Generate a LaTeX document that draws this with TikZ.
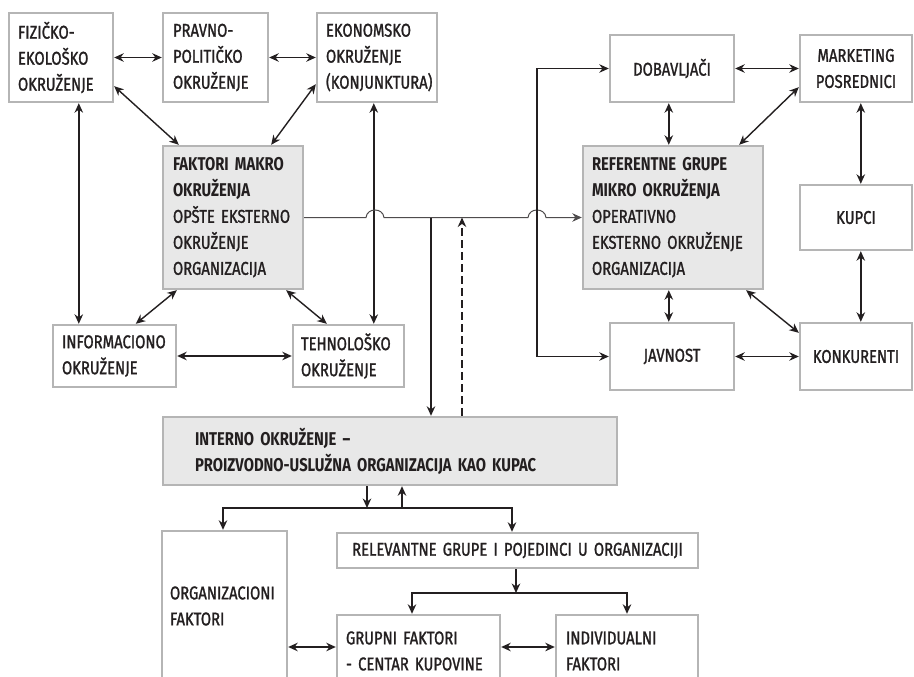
\documentclass[tikz,border=0pt]{standalone}
\usepackage{fontspec}
\setmainfont{Fira Sans}[FakeStretch=0.8, UprightFeatures={FakeBold=1.3}]
\usetikzlibrary{arrows.meta,calc}
\definecolor{bord}{HTML}{B5B5B5}
\definecolor{fillg}{HTML}{E8E8E8}
\definecolor{ink}{HTML}{231F20}
\tikzset{
 box/.style={draw=bord, line width=2.4pt, fill=white, font=\fontsize{18.5}{26}\selectfont, text=ink, align=left, inner ysep=0pt},
 gbox/.style={box, fill=fillg},
 cbox/.style={box, align=center},
 dbl/.style={draw=ink, line width=1.4pt, {Stealth[length=9.5pt,width=8.5pt]}-{Stealth[length=9.5pt,width=8.5pt]}},
 sgl/.style={draw=ink, line width=1.4pt, -{Stealth[length=9.5pt,width=8.5pt]}},
 thinarr/.style={draw=ink!80, line width=1pt, -{Stealth[length=9.5pt,width=8.5pt]}},
 dashedarr/.style={sgl, dash pattern=on 8pt off 4pt},
}
\begin{document}
\begin{tikzpicture}[x=1pt,y=-1pt]
\clip (0,0) rectangle (914,677);
\fill[white] (0,0) rectangle (914,677);
% top row
\node[box, minimum width=104pt, minimum height=89pt, text width=86pt, inner xsep=9pt] (fiz) at (61,57.5) {FIZIČKO-\\EKOLOŠKO\\OKRUŽENJE};
\node[box, minimum width=105pt, minimum height=89pt, text width=85pt, inner xsep=10pt] (prav) at (215.5,57.5) {PRAVNO-\\POLITIČKO\\OKRUŽENJE};
\node[box, minimum width=120pt, minimum height=89pt, text width=102pt, inner xsep=9pt] (ekon) at (377,57.5) {EKONOMSKO\\OKRUŽENJE\\(KONJUNKTURA)};
\node[cbox, minimum width=124pt, minimum height=67pt, text width=106pt, inner xsep=9pt] (dob) at (672,68.5) {DOBAVLJAČI};
\node[cbox, minimum width=112pt, minimum height=67pt, text width=96pt, inner xsep=8pt] (mark) at (856,68.5) {MARKETING\\POSREDNICI};
% middle
\node[gbox, minimum width=140pt, minimum height=143pt, text width=120pt, inner xsep=10pt] (makro) at (233,217.5) {\textbf{FAKTORI MAKRO}\\\textbf{OKRUŽENJA}\\OPŠTE EKSTERNO\\OKRUŽENJE\\ORGANIZACIJA};
\node[gbox, minimum width=180pt, minimum height=143pt, text width=162pt, inner xsep=9pt] (ref) at (673,217.5) {\textbf{REFERENTNE GRUPE}\\\textbf{MIKRO OKRUŽENJA}\\OPERATIVNO\\EKSTERNO OKRUŽENJE\\ORGANIZACIJA};
\node[cbox, minimum width=112pt, minimum height=65pt, text width=96pt, inner xsep=8pt] (kupci) at (856,217.5) {KUPCI};
\node[box, minimum width=123pt, minimum height=62pt, text width=105pt, inner xsep=9pt] (info) at (114.5,356) {INFORMACIONO\\OKRUŽENJE};
\node[box, minimum width=111pt, minimum height=62pt, text width=95pt, inner xsep=8pt] (teh) at (348.5,356) {TEHNOLOŠKO\\OKRUŽENJE};
\node[cbox, minimum width=124pt, minimum height=67pt, text width=106pt, inner xsep=9pt] (jav) at (672,356.5) {JAVNOST};
\node[cbox, minimum width=112pt, minimum height=67pt, text width=96pt, inner xsep=8pt] (konk) at (856,356.5) {KONKURENTI};
% lower
\node[gbox, minimum width=454pt, minimum height=68pt, text width=390pt, inner xsep=32pt] (int) at (390,451) {\textbf{INTERNO OKRUŽENJE –}\\\textbf{PROIZVODNO-USLUŽNA ORGANIZACIJA KAO KUPAC}};
\node[cbox, minimum width=361pt, minimum height=35pt, text width=343pt, inner xsep=9pt] (rel) at (517.5,550.5) {RELEVANTNE GRUPE I POJEDINCI U ORGANIZACIJI};
\node[box, minimum width=125pt, minimum height=150pt, text width=109pt, inner xsep=8pt] (org) at (224.5,606) {ORGANIZACIONI\\FAKTORI};
\node[box, minimum width=163pt, minimum height=72pt, text width=145pt, inner xsep=9pt] (grup) at (418.5,651) {GRUPNI FAKTORI\\- CENTAR KUPOVINE};
\node[box, minimum width=142pt, minimum height=72pt, text width=122pt, inner xsep=10pt] (ind) at (627,651) {INDIVIDUALNI\\FAKTORI};
% helper coordinates
\coordinate (j1) at (431,217.5);
\coordinate (j2) at (462,217.5);
\coordinate (b1) at (537,200);
\coordinate (h1) at (367,508);
\coordinate (h2) at (402,508);
\coordinate (hL) at (223,508);
\coordinate (hR) at (512,508);
\coordinate (h4) at (516,593);
\coordinate (hL2) at (412,593);
\coordinate (hR2) at (627,593);
\coordinate (y647) at (0,647);
\coordinate (bumpA1) at (366,217.5);
\coordinate (bumpA2) at (384,217.5);
\coordinate (bumpB1) at (528,217.5);
\coordinate (bumpB2) at (546,217.5);
% macro cluster
\draw[dbl] (fiz.east) -- (prav.west);
\draw[dbl] (prav.east) -- (ekon.west);
\draw[dbl] ([xshift=17pt]makro.north west) -- ([yshift=17pt]fiz.south east);
\draw[dbl] ([xshift=-33pt]makro.north east) -- ([yshift=19pt]ekon.south west);
\draw[dbl] ([xshift=71pt]fiz.south west) -- ([xshift=27pt]info.north west);
\draw[dbl] ([xshift=58pt]ekon.south west) -- ([xshift=82pt]teh.north west);
\draw[dbl] ([xshift=15pt]makro.south west) -- ([xshift=84pt]info.north west);
\draw[dbl] ([xshift=-18pt]makro.south east) -- ([xshift=35pt]teh.north west);
\draw[dbl] (info.east) -- (teh.west);
% link macro -> micro with line jumps
\draw[thinarr] (makro.east) -- (bumpA1) .. controls ($(bumpA1)+(1,-10)$) and ($(bumpA2)+(-1,-10)$) .. (bumpA2) -- (bumpB1) .. controls ($(bumpB1)+(1,-10)$) and ($(bumpB2)+(-1,-10)$) .. (bumpB2) -- (ref.west);
\draw[sgl] (j1) -- (int.north -| j1);
\draw[dashedarr] (int.north -| j2) -- (j2);
% micro cluster
\draw[dbl] (dob.west) -| (b1) |- (jav.west);
\draw[dbl] (dob.east) -- (mark.west);
\draw[dbl] ([xshift=60pt]dob.south west) -- ([xshift=87pt]ref.north west);
\draw[dbl] ([xshift=-25pt]ref.north east) -- ([yshift=16pt]mark.south west);
\draw[dbl] ([xshift=62pt]mark.south west) -- ([xshift=62pt]kupci.north west);
\draw[dbl] ([xshift=62pt]kupci.south west) -- ([xshift=62pt]konk.north west);
\draw[dbl] ([xshift=87pt]ref.south west) -- ([xshift=60pt]jav.north west);
\draw[dbl] ([xshift=-18pt]ref.south east) -- ([yshift=-11pt]konk.north west);
\draw[dbl] (jav.east) -- (konk.west);
% internal
\draw[sgl] (int.south -| h1) -- (h1);
\draw[sgl] (h2) -- (int.south -| h2);
\draw[dbl] (org.north -| hL) -- (hL) -- (hR) -- (rel.north -| hR);
\draw[sgl] (rel.south -| h4) -- (h4);
\draw[dbl] (grup.north -| hL2) -- (hL2) -- (hR2) -- (ind.north -| hR2);
\draw[dbl] (org.east |- y647) -- (grup.west |- y647);
\draw[dbl] (grup.east |- y647) -- (ind.west |- y647);
\end{tikzpicture}
\end{document}
